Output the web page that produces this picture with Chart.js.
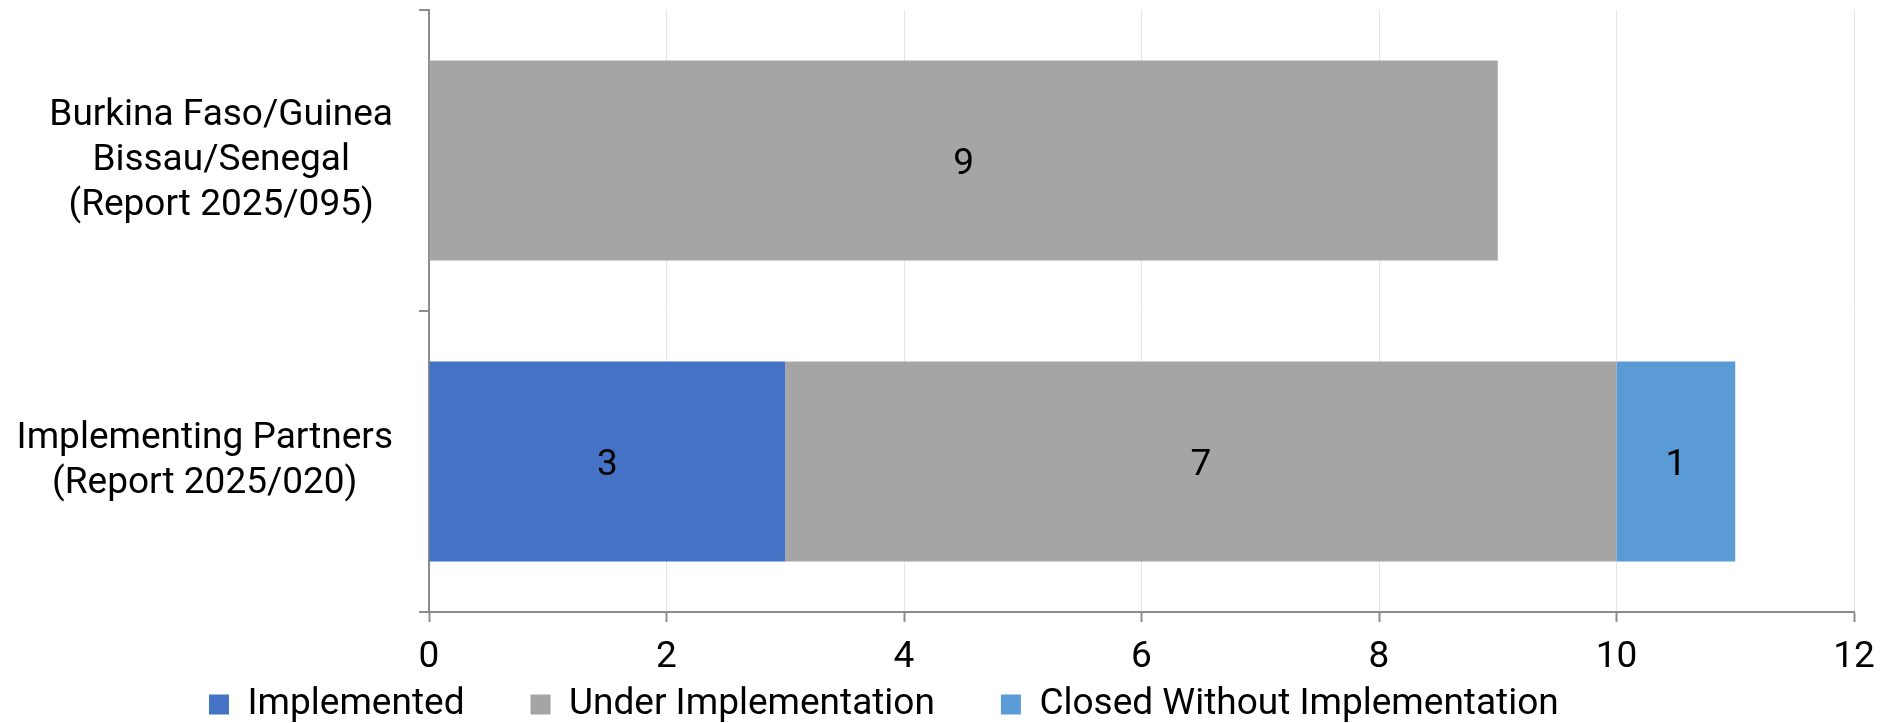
<!DOCTYPE html>
<html>
<head>
<meta charset="utf-8">
<script src="https://cdn.jsdelivr.net/npm/chart.js@4"></script>
<style>
  html, body { margin: 0; padding: 0; background: #fff; }
  #wrap { width: 1883px; height: 723px; }
</style>
</head>
<body>
<div id="wrap"><canvas id="recChart"></canvas></div>
<script>
const categories = [
  ["Burkina Faso/Guinea", "Bissau/Senegal", "(Report 2025/095)"],
  ["Implementing Partners", "(Report 2025/020)"]
];
const seriesNames = ["Implemented", "Under Implementation", "Closed Without Implementation"];
const implemented = [null, 3];
const underImplementation = [9, 7];
const closedWithout = [null, 1];
const xTicks = [0, 2, 4, 6, 8, 10, 12];

const colors = ["#4472C4", "#A5A5A5", "#5B9BD5"];
const axisGray = "#8c8c8c";
const FONT = "Roboto";
const FONT_SIZE = 37;
const Y_TICK_LEN = 10;
const Y_TICK_PAD = 26;

// value labels in the middle of each segment (digits centred on the bar)
const barLabels = {
  id: "barLabels",
  afterDatasetsDraw(chart) {
    const ctx = chart.ctx;
    ctx.save();
    ctx.font = FONT_SIZE + "px " + FONT;
    ctx.fillStyle = "#000";
    ctx.textAlign = "center";
    ctx.textBaseline = "alphabetic";
    chart.data.datasets.forEach((ds, i) => {
      chart.getDatasetMeta(i).data.forEach((bar, j) => {
        const v = ds.data[j];
        if (!v) return;
        const p = bar.getCenterPoint();
        ctx.fillText(String(v), p.x, p.y + FONT_SIZE * 0.355);
      });
    });
    ctx.restore();
  }
};

// legend sits under the tick labels, starting further left
const legendPlace = {
  id: "legendPlace",
  afterLayout(chart) {
    const lg = chart.legend;
    lg.left = 143;
    lg.top = 620;
  }
};

// each category label block is centred on its own widest line (Excel style)
const blockCenter = {
  id: "blockCenter",
  beforeDraw(chart) {
    const ys = chart.scales.y;
    if (!ys || !ys.getLabelItems) return;
    const ctx = chart.ctx;
    ctx.save();
    ctx.font = FONT_SIZE + "px " + FONT;
    ys.getLabelItems().forEach(it => {
      const lines = Array.isArray(it.label) ? it.label : [it.label];
      const w = Math.max(...lines.map(l => ctx.measureText(l).width));
      if (it.options && it.options.translation) {
        it.options.translation[0] = ys.right - Y_TICK_LEN - Y_TICK_PAD - w / 2;
      }
    });
    ctx.restore();
  }
};

new Chart(document.getElementById("recChart"), {
  type: "bar",
  data: {
    labels: categories,
    datasets: [
      { label: seriesNames[0], data: implemented, backgroundColor: colors[0], borderWidth: 0 },
      { label: seriesNames[1], data: underImplementation, backgroundColor: colors[1], borderWidth: 0 },
      { label: seriesNames[2], data: closedWithout, backgroundColor: colors[2], borderWidth: 0 }
    ]
  },
  options: {
    indexAxis: "y",
    responsive: true,
    maintainAspectRatio: false,
    animation: false,
    categoryPercentage: 0.665,
    barPercentage: 1,
    layout: { padding: { left: 0, right: 29, top: 10, bottom: 0 } },
    scales: {
      x: {
        stacked: true,
        min: 0,
        max: 12,
        afterBuildTicks(scale) { scale.ticks = xTicks.map(v => ({ value: v })); },
        afterFit(scale) {
          scale.height = 68;
          scale.paddingLeft = 0;
          scale.paddingRight = 0;
        },
        grid: { color: "#e1e6ee", lineWidth: 1, tickColor: axisGray, tickLength: 10, tickWidth: 2 },
        border: { color: axisGray, width: 2 },
        ticks: { color: "#000", padding: 14, font: { family: FONT, size: FONT_SIZE } }
      },
      y: {
        stacked: true,
        afterFit(scale) {
          scale.width = 429;
          scale.paddingTop = 0;
          scale.paddingBottom = 0;
        },
        grid: { offset: true, drawOnChartArea: false, color: axisGray, lineWidth: 2, tickLength: Y_TICK_LEN },
        border: { color: axisGray, width: 2 },
        ticks: {
          color: "#000",
          crossAlign: "center",
          padding: Y_TICK_PAD,
          font: { family: FONT, size: FONT_SIZE, lineHeight: 1.22 }
        }
      }
    },
    plugins: {
      legend: {
        position: "bottom",
        align: "start",
        maxHeight: 43,
        labels: {
          color: "#000",
          boxWidth: 20,
          boxHeight: 20,
          padding: 66,
          font: { family: FONT, size: FONT_SIZE }
        }
      },
      tooltip: { enabled: false }
    }
  },
  plugins: [barLabels, legendPlace, blockCenter]
});
</script>
</body>
</html>
